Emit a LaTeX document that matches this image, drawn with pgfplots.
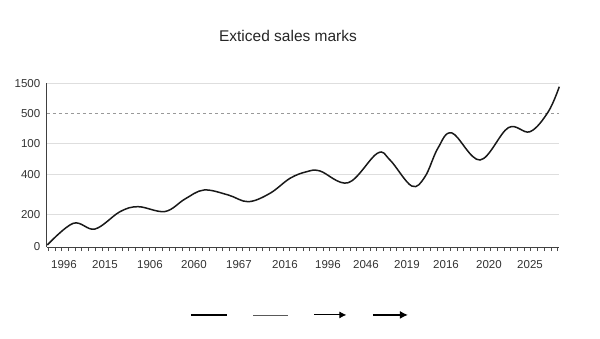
\documentclass[border=0pt]{standalone}
\usepackage{fontspec}
\setmainfont{Liberation Sans}
\usepackage{pgfplots}
\pgfplotsset{compat=1.18}
\usetikzlibrary{arrows.meta}
\begin{document}
\begin{tikzpicture}[x=1pt,y=1pt]
\path (0,0) rectangle (600,338);
\node[anchor=base, font=\fontsize{15.5}{18}\selectfont, text=black!85] at (288,296) {Exticed sales marks};
\begin{axis}[
  at={(47pt,91pt)}, anchor=south west, scale only axis,
  width=512pt, height=163.7pt,
  xmin=47, xmax=559, ymin=0, ymax=163.7,
  axis lines=left, axis line style={-, line width=1pt, black!75},
  /pgf/number format/assume math mode=true,
  ticklabel style={font=\fontsize{11.5}{13}\selectfont, text=black!80},
  xtick={64,105,150,194,239,285,328,366,407,446,489,530},
  xticklabels={1996,2015,1906,2060,1967,2016,1996,2046,2019,2016,2020,2025},
  major x tick style={draw=none},
  minor xtick={48.3,55,...,557},
  minor x tick style={black!70, line width=0.6pt},
  minor tick length=4pt,
  tick align=outside,
  xticklabel style={yshift=-6pt},
  ytick={0,32.7,72.7,103.7,163.7},
  yticklabels={0,200,400,100,1500},
  extra y ticks={133.7},
  extra y tick labels={500},
  extra y tick style={grid=major, major grid style={dashed, black!40, line width=0.6pt}},
  major y tick style={draw=none},
  ymajorgrids,
  major grid style={black!13, line width=0.6pt},
  yticklabel style={xshift=1pt},
  clip=false,
  legend entries={\mbox{},\mbox{},\mbox{},\mbox{}},
  legend style={at={(0.494,-0.415)}, anchor=center, draw=none, fill=none,
    legend columns=4, /tikz/every even column/.append style={column sep=24pt},
    nodes={inner sep=0pt}},
]
\addplot[black!90, line width=1.5pt, smooth, tension=0.6, forget plot] coordinates {
(47.3,2) (73.3,23.7) (95,18) (120,35.3) (138.3,40.3) (165,35.5) (185,48)
(204,57) (228.3,52) (248.3,45.3) (270,53.7) (290,68.7) (306.7,75.3) (320,76)
(348.3,64.3) (377.3,93.7) (390,87) (411.7,61) (425,70.3) (438,99) (452,114)
(480,87) (508.3,119.3) (530,115.3) (548.3,135.3) (559.3,160.3)
};
\addlegendimage{legend image code/.code={\draw[line width=2.2pt, black] (0pt,0pt) -- (36pt,0pt);}}
\addlegendimage{legend image code/.code={\draw[line width=0.8pt, black!65] (0pt,0pt) -- (35pt,0pt);}}
\addlegendimage{legend image code/.code={\draw[line width=1.1pt, black, -{Latex[length=7pt,width=7pt]}] (0pt,0pt) -- (32pt,0pt);}}
\addlegendimage{legend image code/.code={\draw[line width=2pt, black, -{Latex[length=8pt,width=8pt]}] (0pt,0pt) -- (35pt,0pt);}}
\end{axis}
\end{tikzpicture}
\end{document}
